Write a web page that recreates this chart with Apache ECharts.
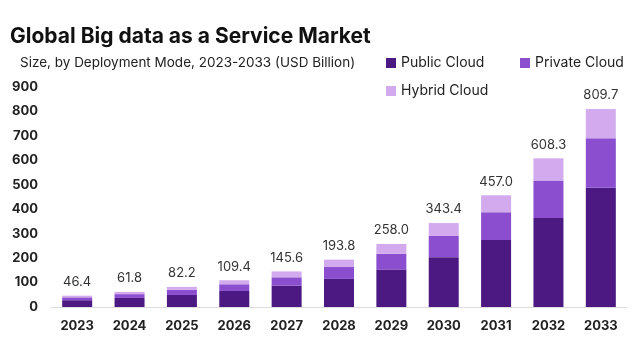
<!DOCTYPE html>
<html><head><meta charset="utf-8">
<script src="https://cdn.jsdelivr.net/npm/echarts@6/dist/echarts.min.js"></script>
<style>html,body{margin:0;padding:0;background:#fff}#c{width:640px;height:360px}</style>
</head><body><div id="c"></div>
<script>
const years = ['2023','2024','2025','2026','2027','2028','2029','2030','2031','2032','2033'];
const totals = [46.4, 61.8, 82.2, 109.4, 145.6, 193.8, 258.0, 343.4, 457.0, 608.3, 809.7];
const publicCloud = [27.8, 37.1, 49.3, 65.6, 87.5, 115, 153, 204, 274, 364.5, 488];
const privateCloud = [11.6, 15.5, 20.6, 27.4, 34, 48.5, 65, 86.5, 113.6, 153.5, 202];
const hybridCloud = [7.0, 9.2, 12.3, 16.4, 24.1, 30.3, 40, 52.9, 69.4, 90.3, 119.7];
const yTicks = [0,100,200,300,400,500,600,700,800,900];

const font = 'Inter, "Open Sans", sans-serif';
const colors = ['#4c1882', '#8a4ecf', '#d3aaee'];
const chart = echarts.init(document.getElementById('c'));
chart.setOption({
  animation: false,
  backgroundColor: '#fff',
  color: colors,
  title: [
    {text: 'Global Big data as a Service Market', left: 5, top: 21,
     textStyle: {fontFamily: font, fontWeight: 'bold', fontSize: 21, color: '#111'}},
    {text: 'Size, by Deployment Mode, 2023-2033 (USD Billion)', left: 15, top: 51,
     textStyle: {fontFamily: font, fontWeight: 'normal', fontSize: 13.5, color: '#222'}}
  ],
  legend: [
    {data: ['Public Cloud'], left: 381, top: 51, itemWidth: 10, itemHeight: 10, icon: 'rect',
     textStyle: {fontFamily: font, fontSize: 14, color: '#222'}},
    {data: ['Private Cloud'], left: 515, top: 51, itemWidth: 10, itemHeight: 10, icon: 'rect',
     textStyle: {fontFamily: font, fontSize: 14, color: '#222'}},
    {data: ['Hybrid Cloud'], left: 381, top: 79, itemWidth: 10, itemHeight: 10, icon: 'rect',
     textStyle: {fontFamily: font, fontSize: 14, color: '#222'}}
  ],
  grid: {left: 51, right: 13, top: 87, bottom: 53, containLabel: false},
  xAxis: {
    type: 'category', data: years,
    axisLine: {lineStyle: {color: '#dddddd'}}, axisTick: {show: false},
    axisLabel: {fontFamily: font, fontWeight: 'bold', fontSize: 13, color: '#222', margin: 13}
  },
  yAxis: {
    type: 'value', min: yTicks[0], max: yTicks[yTicks.length-1], interval: 100,
    splitLine: {show: false}, axisLine: {show: false}, axisTick: {show: false},
    axisLabel: {fontFamily: font, fontWeight: 'bold', fontSize: 13, color: '#222', margin: 13}
  },
  series: [
    {name: 'Public Cloud', type: 'bar', stack: 't', data: publicCloud, barWidth: 30},
    {name: 'Private Cloud', type: 'bar', stack: 't', data: privateCloud, barWidth: 30},
    {name: 'Hybrid Cloud', type: 'bar', stack: 't', data: hybridCloud, barWidth: 30,
     label: {show: true, position: 'top', distance: 7,
       formatter: p => totals[p.dataIndex].toFixed(1),
       fontFamily: font, fontSize: 13, color: '#333'}}
  ]
});
</script></body></html>
